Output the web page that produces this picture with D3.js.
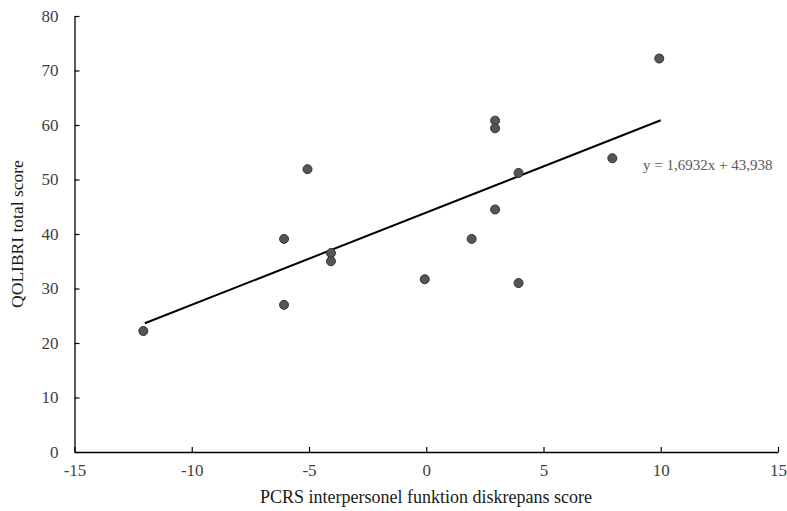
<!DOCTYPE html>
<html><head><meta charset="utf-8">
<script src="https://cdn.jsdelivr.net/npm/d3@7"></script>
<style>body{margin:0;background:#fff;} svg{display:block;}</style>
</head><body>
<svg id="chart" width="787" height="511"></svg>
<script>
const xValues = [-12, -6, -6, -5, -4, -4, 0, 2, 3, 3, 3, 4, 4, 8, 10];
const yValues = [22.2, 39.1, 27.0, 51.9, 36.5, 35.0, 31.7, 39.1, 60.8, 59.4, 44.5, 51.2, 31.0, 53.9, 72.2];
const xTicks = [-15, -10, -5, 0, 5, 10, 15];
const yTicks = [0, 10, 20, 30, 40, 50, 60, 70, 80];
const slope = 1.6932, intercept = 43.938;
const trendRange = [-12, 10];
const equationLabel = "y = 1,6932x + 43,938";
const xTitle = "PCRS interpersonel funktion diskrepans score";
const yTitle = "QOLIBRI total score";

const svg = d3.select("#chart");
const x = d3.scaleLinear().domain([-15, 15]).range([74.5, 778]);
const y = d3.scaleLinear().domain([0, 80]).range([452, 16]);
const font = "'Liberation Serif','Times New Roman',serif";
const fmt = d => String(d);

const xAxis = svg.append("g").attr("transform", `translate(0,${y(0)})`)
  .call(d3.axisBottom(x).tickValues(xTicks).tickSizeInner(-5).tickSizeOuter(0).tickPadding(12).tickFormat(fmt));
const yAxis = svg.append("g").attr("transform", `translate(${x(-15)},0)`)
  .call(d3.axisLeft(y).tickValues(yTicks).tickSizeInner(-5).tickSizeOuter(0).tickPadding(16).tickFormat(fmt));
[xAxis, yAxis].forEach(g => {
  g.select(".domain").attr("stroke", "#000").attr("stroke-width", 1.3);
  g.selectAll(".tick line").attr("stroke", "#000").attr("stroke-width", 1.2);
  g.selectAll(".tick text").attr("fill", "#404040").style("font-family", font).style("font-size", "17px");
});
xAxis.selectAll(".tick text").attr("dy", "0.71em");

svg.append("text").attr("x", 426).attr("y", 503).attr("text-anchor", "middle")
  .attr("fill", "#1a1a1a").style("font-family", font).style("font-size", "18px").text(xTitle);
svg.append("text").attr("transform", `translate(23,234) rotate(-90)`).attr("text-anchor", "middle")
  .attr("fill", "#1a1a1a").style("font-family", font).style("font-size", "17.5px").text(yTitle);

svg.append("line")
  .attr("x1", x(trendRange[0])).attr("y1", y(slope * trendRange[0] + intercept))
  .attr("x2", x(trendRange[1])).attr("y2", y(slope * trendRange[1] + intercept))
  .attr("stroke", "#000").attr("stroke-width", 2);

svg.append("g").selectAll("circle").data(xValues.map((d, i) => [d, yValues[i]])).join("circle")
  .attr("cx", d => x(d[0]) - 1.5).attr("cy", d => y(d[1])).attr("r", 4.5)
  .attr("fill", "#555").attr("stroke", "#333").attr("stroke-width", 1);

svg.append("text").attr("x", 643).attr("y", 170)
  .attr("fill", "#595959").style("font-family", font).style("font-size", "15px").text(equationLabel);
</script>
</body></html>
